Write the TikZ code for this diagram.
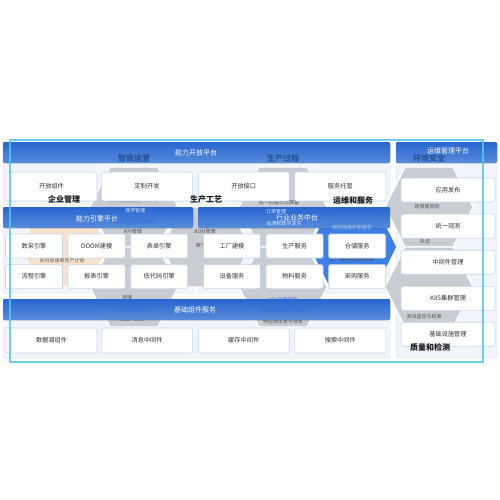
\documentclass[tikz,border=0pt]{standalone}
\usepackage{fontspec}
\setmainfont{Noto Sans CJK SC}
\usepackage{xcolor}
\usetikzlibrary{positioning, backgrounds}

\definecolor{hdrtop}{HTML}{2A6DE0}
\definecolor{hdrbot}{HTML}{5F97EC}
\definecolor{panelbg}{HTML}{F1F5FB}
\definecolor{panelln}{HTML}{DCE6F4}
\definecolor{boxln}{HTML}{C3D7F1}
\definecolor{hexgray}{HTML}{C9CDD3}
\definecolor{hexpeach}{HTML}{F8E2CB}
\definecolor{hexblue}{HTML}{3D7FE4}
\definecolor{itemblue}{HTML}{2F6FDE}
\definecolor{framecyan}{HTML}{55C6F2}
\definecolor{titlenavy}{HTML}{2A5596}

% one cell of the honeycomb: centre x, top y, fill
\newcommand{\hexcell}[3]{%
  \filldraw[hexcell, fill=#3] ({#1-24},#2) -- ({#1+24},#2) -- ({#1+44},{#2+40})
    -- ({#1+24},{#2+80}) -- ({#1-24},{#2+80}) -- ({#1-44},{#2+40}) -- cycle;}

\begin{document}
\begin{tikzpicture}[
    x=1pt, y=-1pt,
    font=\fontsize{6.2}{7}\selectfont,
    box/.style={draw=boxln, fill=white, rounded corners=1.5pt, line width=0.6pt,
                align=center, inner sep=0pt, text=black!80},
    wide/.style={box, minimum width=91pt, minimum height=29pt},
    eng/.style={box, minimum width=57pt, minimum height=24pt},
    ops/.style={box, minimum width=94pt, minimum height=24pt},
    panel/.style={fill=panelbg, draw=panelln, line width=0.5pt, rounded corners=2pt},
    hdr/.style={top color=hdrtop, bottom color=hdrbot, fill opacity=0.92, rounded corners=2pt},
    hdrtxt/.style={text=white, font=\fontsize{7}{8}\selectfont, inner sep=0pt},
    item/.style={font=\fontsize{5}{6}\selectfont, text=black!70, inner sep=0pt},
    lite/.style={item, text=white!85!hdrtop},
    lblu/.style={item, text=hdrbot!55!white},
    blu/.style={item, text=itemblue},
    ttl/.style={font=\fontsize{8}{9}\selectfont\bfseries, inner sep=0pt, text=black!90},
    hexcell/.style={draw=white, line width=1.2pt},
]
\useasboundingbox (0,0) rectangle (500,500);
\fill[white] (0,0) rectangle (500,500);

% panels
\draw[panel] (3,142) rectangle (390,205);
\draw[panel] (3,207) rectangle (193,293);
\draw[panel] (198,207) rectangle (390,293);
\draw[panel] (3,299) rectangle (390,358);
\draw[panel] (396,142) rectangle (497,358);

% honeycomb behind
\hexcell{64}{207}{hexpeach}
\hexcell{134}{167}{hexgray}
\hexcell{134}{247}{hexgray}
\hexcell{206}{207}{hexgray}
\hexcell{283}{167}{hexgray}
\hexcell{283}{247}{hexgray}
\hexcell{353}{207}{hexblue}
\hexcell{429}{167}{hexgray}
\hexcell{429}{247}{hexgray}

\node[item] (oee) at (134,201) {OEE和绩效指标（KPI）};
\node[item] (kpi) at (133,232) {KPI管理};
\node[item] (lj) at (127,298) {连接};
\node[item] (mes) at (132,320) {MES、EAM};
\node[item] (fk) at (62,261) {实时反馈到生产计划};
\node[item] (bom) at (205,232) {BOM管理};
\node[item] (szls) at (206,246) {数字孪生};
\node[item] (czy) at (279,203) {统一的操作员屏幕};
\node[item] (gys) at (283,322) {供应商信息可视化};
\node[item] (zc) at (352,260) {资产趋势和故障排除};
\node[item] (yc) at (427,207) {异常或风险};
\node[item] (dw) at (425,242) {队伍};
\node[item] (cs) at (424,317) {测试监控与校准};

% header bands
\fill[hdr] (3,142) rectangle (390,163);
\fill[hdr] (3,207) rectangle (193,228);
\fill[hdr] (198,207) rectangle (390,228);
\fill[hdr] (3,299) rectangle (390,320);
\fill[hdr] (396,142) rectangle (497,163);

\node[hdrtxt] (kfpt) at (196,153) {能力开放平台};
\node[hdrtxt] (yqpt) at (97,219) {能力引擎平台};
\node[hdrtxt] (ywzt) at (297,218) {行业业务中台};
\node[hdrtxt] (jczj) at (195,310) {基础组件服务};
\node[hdrtxt] (ywgl) at (448,151) {运维管理平台};

% items seen through the bands
\node[lite] (px) at (135,211) {排序管理};
\node[blu] (ss) at (135,222) {实时/机器分析集成};
\node[lite] (dd) at (276,212) {订单管理};
\node[lite] (zs) at (284,224) {追溯和数字孪生};
\node[lblu] (yc2) at (352,228) {预测性维护和报告};
\node[blu] (erp) at (133,309) {双向集成到ERP};
\node[blu] (agv) at (283,300) {AGV车辆监控};
\node[blu] (sfk) at (283,311) {实施反馈到生产计划};

% titles of the upper row
\node[ttl, text=titlenavy] (znyy) at (134,158) {智能运营};
\node[ttl, text=titlenavy] (scgc) at (283,158) {生产过程};
\node[ttl, text=titlenavy] (hjaq) at (429,158) {环境安全};

% open platform
\node[wide] (kfzj) at (51.5,186.5) {开放组件};
\node[wide, right=4pt of kfzj] (dzkf) {定制开发};
\node[wide, right=5pt of dzkf] (kfjk) {开放接口};
\node[wide, right=5pt of kfjk] (fwtg) {服务托管};

% engines
\node[eng] (scyq) at (34,246) {数采引擎};
\node[eng, right=5pt of scyq] (oojm) {OOOM建模};
\node[eng, right=5pt of oojm] (bdyq) {表单引擎};
\node[eng, below=6pt of scyq] (lcyq) {流程引擎};
\node[eng, below=6pt of oojm] (bbyq) {报表引擎};
\node[eng, below=6pt of bdyq] (ddyq) {低代码引擎};

% business services
\node[eng] (gcjm) at (232,246) {工厂建模};
\node[eng, right=5pt of gcjm] (scfw) {生产服务};
\node[eng, right=5pt of scfw] (ccfw) {仓储服务};
\node[eng, below=6pt of gcjm] (sbfw) {设备服务};
\node[eng, below=6pt of scfw] (wlfw) {物料服务};
\node[eng, below=6pt of ccfw] (cgfw) {采购服务};

% base components
\node[wide, minimum height=25pt] (sjh) at (51.5,340.5) {数据湖组件};
\node[wide, minimum height=25pt, right=4pt of sjh] (xxzj) {消息中间件};
\node[wide, minimum height=25pt, right=5pt of xxzj] (hczj) {缓存中间件};
\node[wide, minimum height=25pt, right=5pt of hczj] (sszj) {搜索中间件};

% operations column
\node[ops] (yyfb) at (448,190) {应用发布};
\node[ops, below=11.5pt of yyfb] (tygc) {统一观测};
\node[ops, below=11.5pt of tygc] (zjj) {中间件管理};
\node[ops, below=11.5pt of zjj] (k8s) {K8S集群管理};
\node[ops, below=11.5pt of k8s] (jcss) {基础设施管理};

% titles of the lower row
\node[ttl] (qygl) at (64,199) {企业管理};
\node[ttl] (scgy) at (206,199) {生产工艺};
\node[ttl] (ywfw) at (353,200) {运维和服务};
\node[ttl] (zljc) at (430,347) {质量和检测};

% outer frame
\draw[framecyan, line width=1.1pt, draw opacity=0.85] (10,140) rectangle (483,362);
\end{tikzpicture}
\end{document}
